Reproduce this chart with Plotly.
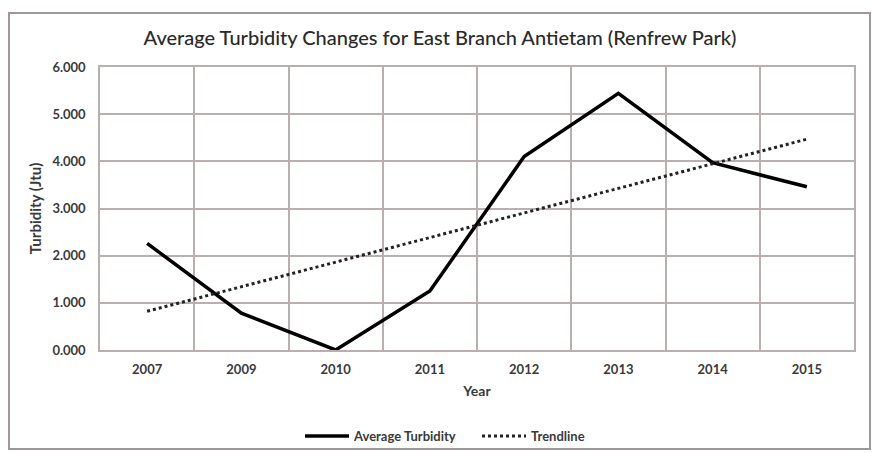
import plotly.graph_objects as go

years = ["2007", "2009", "2010", "2011", "2012", "2013", "2014", "2015"]
avg_turbidity = [2.26, 0.78, 0.0, 1.25, 4.10, 5.44, 3.97, 3.46]
trend_years = ["2007", "2015"]
trend_values = [0.82, 4.47]
y_ticks = [0, 1, 2, 3, 4, 5, 6]
y_tick_labels = ["0.000", "1.000", "2.000", "3.000", "4.000", "5.000", "6.000"]

FONT = "Lato, Liberation Sans Narrow, Roboto, sans-serif"
TXT = "#3a3a3a"
GRID = "#b8afaf"

fig = go.Figure()
fig.add_trace(go.Scatter(x=years, y=avg_turbidity, mode="lines", name="Average Turbidity",
                         line=dict(color="black", width=3.5)))
fig.add_trace(go.Scatter(x=trend_years, y=trend_values, mode="lines", name="Trendline",
                         line=dict(color="#222222", width=3, dash="dot")))

W, H = 873, 453
L, R, T, B = 100, 854, 67, 350
pw, ph = R - L, B - T

def px_x(v):
    return (v - L) / pw

def px_y(v):
    return (B - v) / ph

fig.add_shape(type="rect", xref="paper", yref="paper",
              x0=px_x(9), x1=px_x(870), y0=px_y(449), y1=px_y(13),
              line=dict(color="#a09898", width=2), layer="below")

fig.update_layout(
    width=W, height=H,
    margin=dict(l=L, r=W - R, t=T, b=H - B, autoexpand=False),
    paper_bgcolor="white", plot_bgcolor="white",
    font=dict(family=FONT, color=TXT),
    title=dict(text="Average Turbidity Changes for East Branch Antietam (Renfrew Park)",
               x=440 / W, xanchor="center", y=1 - 38 / H, yanchor="middle",
               font=dict(size=20, color="#2a2a2a", family=FONT, weight=500)),
    xaxis=dict(type="category", categoryorder="array", categoryarray=years,
               range=[-0.5, len(years) - 0.5],
               tickson="boundaries", showgrid=True, gridcolor=GRID, gridwidth=1.5,
               showline=True, linecolor=GRID, linewidth=1.5, mirror=True,
               ticks="", ticklabelstandoff=7, tickangle=0, automargin=False,
               tickfont=dict(size=13, color=TXT, family=FONT, weight="bold"),
               title=dict(text="Year", standoff=10,
                          font=dict(size=14, color=TXT, family=FONT, weight="bold"))),
    yaxis=dict(range=[0, 6], tickvals=y_ticks, ticktext=y_tick_labels,
               showgrid=True, gridcolor=GRID, gridwidth=1.5,
               showline=True, linecolor=GRID, linewidth=1.5, mirror=True,
               zeroline=False, ticks="", ticklabelstandoff=10, automargin=False,
               tickfont=dict(size=13, color=TXT, family=FONT, weight="bold"),
               title=dict(text="Turbidity (Jtu)", standoff=7,
                          font=dict(size=15, color=TXT, family=FONT, weight="bold"))),
    legend=dict(orientation="h", xref="container", yref="container",
                x=300 / W, xanchor="left", y=1 - 436 / H, yanchor="middle",
                font=dict(size=13, color=TXT, family=FONT, weight="bold"),
                itemwidth=44, entrywidth=118, entrywidthmode="pixels",
                bgcolor="rgba(0,0,0,0)"),
    showlegend=True,
)

fig.write_html("out.html")
